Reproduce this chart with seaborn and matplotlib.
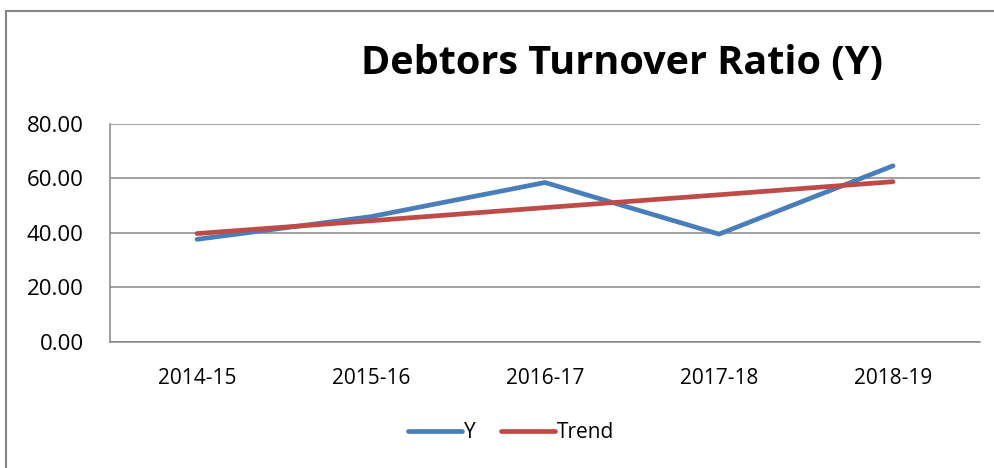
import matplotlib
matplotlib.use('Agg')
import matplotlib.pyplot as plt
import seaborn as sns
import pandas as pd
from matplotlib.patches import Rectangle
from matplotlib.lines import Line2D


years = ['2014-15', '2015-16', '2016-17', '2017-18', '2018-19']
y_vals = [37.6, 45.9, 58.4, 39.5, 64.5]
trend_vals = [39.7, 44.4, 49.2, 53.9, 58.7]
series_names = ['Y', 'Trend']
colors = ['#4A7EBB', '#BE4B48']

df = pd.DataFrame({
    'year': years * 2,
    'value': y_vals + trend_vals,
    'series': ['Y'] * len(years) + ['Trend'] * len(years),
})

sns.set_style('white')
plt.rcParams['font.family'] = ['Open Sans', 'DejaVu Sans']
plt.rcParams['text.color'] = 'black'
plt.rcParams['xtick.color'] = 'black'
plt.rcParams['ytick.color'] = 'black'

fig = plt.figure(figsize=(9.95, 4.68), dpi=100)
ax = fig.add_axes([110 / 995, 1 - 342 / 468, 870 / 995, 218.5 / 468])

sns.lineplot(data=df, x='year', y='value', hue='series', hue_order=series_names,
             palette=colors, linewidth=3.4, sort=False, ax=ax, legend=False,
             solid_capstyle='round')

ax.set_xlim(-0.5, 4.5)
ax.set_ylim(0, 80)
ax.set_yticks([0, 20, 40, 60, 80])
ax.set_yticklabels([f'{v:.2f}' for v in [0, 20, 40, 60, 80]])
ax.set_xlabel('')
ax.set_ylabel('')
ax.grid(axis='y', color='#868686', linewidth=1.1)
ax.set_axisbelow(True)
for side in ['top', 'right']:
    ax.spines[side].set_visible(False)
ax.spines['left'].set_color('#868686')
ax.spines['left'].set_linewidth(1.1)
ax.spines['bottom'].set_color('#868686')
ax.spines['bottom'].set_linewidth(1.1)
ax.tick_params(axis='y', length=2, color='#868686', labelcolor='black', pad=17, labelsize=16)
ax.tick_params(axis='x', length=0, labelcolor='black', pad=19, labelsize=15)

fig.text(622 / 995, 1 - 64 / 468, 'Debtors Turnover Ratio (Y)', ha='center', va='center',
         fontsize=28.5, fontweight='bold', color='black')

handles = [Line2D([], [], color=c, linewidth=3.4, solid_capstyle='round') for c in colors]
fig.legend(handles, series_names, loc='center', bbox_to_anchor=(511 / 995, 1 - 433 / 468),
           ncol=2, frameon=False, fontsize=15, handlelength=2.6, handletextpad=0.1,
           columnspacing=1.2)

# outer chart border
fig.patches.append(Rectangle((6.5 / 995, -0.1), 1.2, 1.1 - 11.5 / 468,
                             transform=fig.transFigure, fill=False,
                             edgecolor='#868686', linewidth=1.5))

fig.savefig('out.png', dpi=100)
